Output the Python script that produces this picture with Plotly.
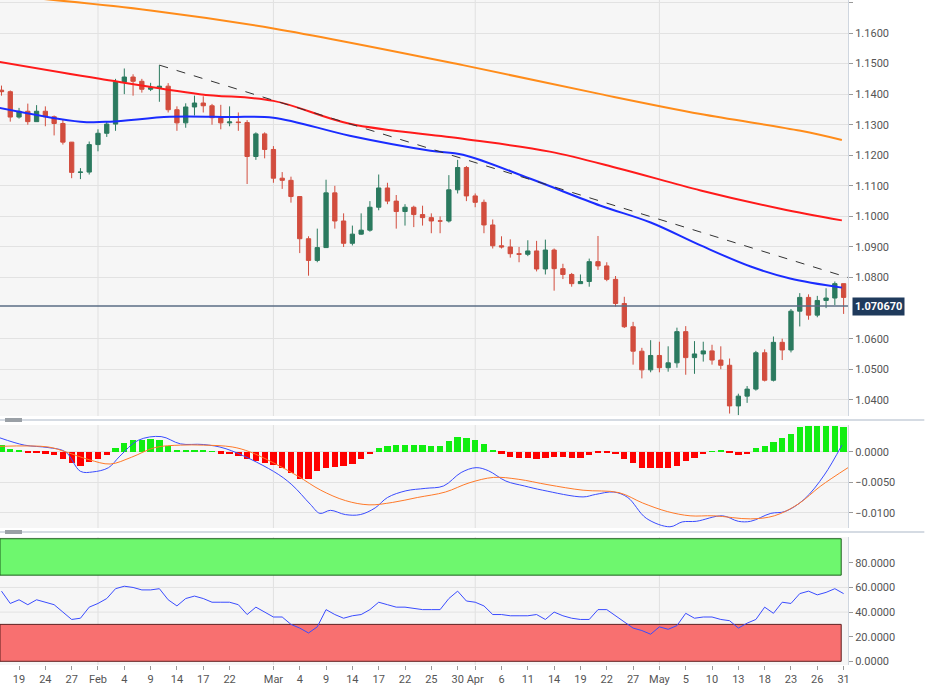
import plotly.graph_objects as go
import pandas as pd

dates = pd.bdate_range("2022-01-17", "2022-05-31")
idx = list(range(len(dates)))

close = [1.1408,1.1325,1.1344,1.1310,1.1344,1.1326,1.1304,1.1243,1.1144,1.1145,1.1235,
 1.1272,1.1302,1.1440,1.1456,1.1442,1.1416,1.1421,1.1426,1.1349,1.1306,1.1358,1.1371,1.1362,1.1323,1.1306,1.1309,1.1307,1.1196,1.1270,1.1219,
 1.1125,1.1118,1.1065,1.0927,1.0856,1.0898,1.1077,1.0985,1.0912,1.0942,1.0955,1.1030,1.1093,1.1050,1.1016,1.1030,1.1006,1.0996,1.0985,1.0985,1.1087,1.1160,1.1067,
 1.1046,1.0972,1.0904,1.0900,1.0878,1.0876,1.0887,1.0828,1.0890,1.0829,1.0810,1.0780,1.0787,1.0852,1.0838,1.0794,1.0715,1.0639,1.0559,1.0498,1.0545,
 1.0505,1.0521,1.0623,1.0538,1.0550,1.0560,1.0530,1.0513,1.0380,1.0412,1.0435,1.0554,1.0464,1.0588,1.0563,1.0690,1.0735,1.0677,1.0725,1.0733,1.0780,1.0735]
open_ = [1.1413] + close[:-1]
high = [1.1428,1.1412,1.1355,1.1369,1.1364,1.1360,1.1330,1.1318,1.1230,1.1158,1.1245,
 1.1285,1.1310,1.1450,1.1484,1.1465,1.1450,1.1437,1.1495,1.1436,1.1360,1.1370,1.1395,1.1393,1.1368,1.1365,1.1360,1.1340,1.1315,1.1275,1.1275,
 1.1230,1.1145,1.1130,1.1065,1.0935,1.0960,1.1120,1.1100,1.1010,1.0970,1.1010,1.1050,1.1137,1.1110,1.1070,1.1040,1.1035,1.1035,1.1010,1.1000,1.1135,1.1185,1.1165,
 1.1075,1.1055,1.0990,1.0935,1.0925,1.0900,1.0922,1.0920,1.0924,1.0895,1.0845,1.0815,1.0810,1.0862,1.0936,1.0850,1.0805,1.0737,1.0655,1.0570,1.0595,
 1.0590,1.0575,1.0636,1.0641,1.0592,1.0590,1.0580,1.0575,1.0535,1.0420,1.0445,1.0560,1.0565,1.0607,1.0600,1.0697,1.0749,1.0745,1.0740,1.0765,1.0787,1.0780]
low = [1.1395,1.1310,1.1320,1.1300,1.1310,1.1295,1.1265,1.1235,1.1125,1.1122,1.1137,
 1.1213,1.1260,1.1280,1.1400,1.1395,1.1405,1.1410,1.1375,1.1340,1.1280,1.1290,1.1330,1.1340,1.1300,1.1285,1.1295,1.1280,1.1106,1.1185,1.1190,
 1.1110,1.1090,1.1045,1.0880,1.0806,1.0850,1.0898,1.0960,1.0900,1.0905,1.0940,1.0950,1.1020,1.1040,1.0960,1.0970,1.0965,1.0970,1.0945,1.0945,1.0980,1.1075,1.1050,
 1.1030,1.0945,1.0895,1.0895,1.0865,1.0850,1.0870,1.0820,1.0810,1.0757,1.0795,1.0770,1.0780,1.0770,1.0825,1.0788,1.0705,1.0635,1.0515,1.0470,1.0490,
 1.0490,1.0492,1.0505,1.0482,1.0485,1.0525,1.0515,1.0500,1.0355,1.0350,1.0390,1.0430,1.0460,1.0460,1.0530,1.0555,1.0640,1.0662,1.0670,1.0700,1.0710,1.0681]

# moving averages (index, value)
ma55_i = [-0.2,9,12.4,19.2,26,31,39.7,48.9,52.6,60.3,68.3,74,79.7,85.4,89.9,95.8]
ma55_v = [1.1355,1.1310,1.1310,1.1326,1.1325,1.1323,1.1264,1.1215,1.1202,1.1123,1.1035,1.0980,1.0905,1.0836,1.0797,1.0767]
ma100_i = [-0.2,11.2,22.6,31,39.7,52.6,62.5,70.5,79.7,88.8,95.8]
ma100_v = [1.1505,1.1450,1.1400,1.1378,1.1303,1.1254,1.1212,1.1156,1.1085,1.1025,1.0987]
ma200_i = [-0.2,17,31,52.6,68.3,79.7,91.1,95.8]
ma200_v = [1.1725,1.1674,1.1615,1.1495,1.1400,1.1335,1.1280,1.1250]
trend_i = [18, 96.5]
trend_v = [1.1495, 1.0800]
last_price = 1.070670
price_ticks = [1.04,1.05,1.06,1.08,1.09,1.10,1.11,1.12,1.13,1.14,1.15,1.16,1.17]

macd_i = [-0.2,2.6,5.3,7.3,9,10.4,12.2,13.5,15.6,18.2,20.4,23,25.6,31,33.1,35.2,36.3,37.5,39.2,40.9,42.6,44,46.1,48.3,50.4,52.4,54.1,55.5,57.5,59.6,61.7,66.3,67.7,69.8,71.4,73.5,76.2,77.6,79.2,82.2,84,85.4,87.7,89.3,91.5,93.8,95.8]
macd_v = [0.0023,0.0011,0.0007,0.0000,-0.0032,-0.0033,-0.0026,-0.0007,0.0019,0.0025,0.0013,0.0012,0.0005,-0.0032,-0.0054,-0.0086,-0.0101,-0.0096,-0.0103,-0.0103,-0.0092,-0.0075,-0.0064,-0.0060,-0.0056,-0.0034,-0.0026,-0.0031,-0.0048,-0.0056,-0.0063,-0.0074,-0.0070,-0.0066,-0.0075,-0.0109,-0.0123,-0.0115,-0.0114,-0.0105,-0.0114,-0.0114,-0.0101,-0.0098,-0.0078,-0.0038,0.0011]
signal_i = [-0.2,5.3,7.3,10,12.4,14.8,17.5,20.4,23,26.3,28.3,31,33.8,36.4,39.2,41.9,44.6,47.4,50.6,53.3,56.1,58.9,62.3,66.3,70.4,73.1,75.9,78.5,81.2,85.4,88.1,90.8,93.4,96.5]
signal_v = [0.0009,0.0008,0.0000,-0.0013,-0.0020,-0.0009,0.0007,0.0011,0.0011,0.0008,0.0000,-0.0018,-0.0040,-0.0063,-0.0080,-0.0087,-0.0083,-0.0075,-0.0066,-0.0051,-0.0042,-0.0045,-0.0054,-0.0063,-0.0067,-0.0084,-0.0098,-0.0105,-0.0105,-0.0110,-0.0105,-0.0086,-0.0056,-0.0026]
hist = [0.0012,0.0005,0.0003,-0.0002,-0.0002,-0.0003,-0.0006,-0.0012,-0.0018,-0.0023,-0.0017,-0.0012,-0.0006,
 0.0006,0.0015,0.0019,0.0020,0.0021,0.0019,0.0010,0.0002,0.0002,0.0002,0.0002,0.0001,
 -0.0003,-0.0004,-0.0007,-0.0012,-0.0015,-0.0018,-0.0022,-0.0027,-0.0035,-0.0044,-0.0045,-0.0032,-0.0027,-0.0025,-0.0024,-0.0020,-0.0012,-0.0004,
 0.0006,0.0009,0.0011,0.0012,0.0012,0.0011,0.0010,0.0010,0.0017,0.0024,0.0022,0.0020,0.0013,0.0003,
 -0.0003,-0.0008,-0.0010,-0.0010,-0.0011,-0.0010,-0.0009,-0.0009,-0.0010,-0.0010,-0.0006,-0.0002,-0.0001,-0.0004,-0.0012,-0.0018,-0.0026,-0.0027,-0.0026,-0.0026,-0.0023,-0.0015,-0.0010,-0.0004,
 0.0001,0.0002,-0.0001,-0.0005,-0.0004,0.0006,0.0009,0.0016,0.0022,0.0030,0.0040,0.0042,0.0043,0.0043,0.0043,0.0040]
rsi = [57,47,50,46,50,48,46,40,34,35,44,47,51,59,61,60,58,58,59,50,45,51,53,51,48,48,48,46,38,44,40,36,36,30,27,23,28,42,38,35,37,38,42,48,46,44,44,43,42,42,42,51,57,49,48,45,38,38,37,37,37,38,34,40,37,35,34,34,42,42,37,32,27,25,22,28,26,29,39,35,36,36,34,33,27,31,34,44,39,48,47,55,57,54,56,59,55]
rsi_ticks = [0, 20, 40, 60, 80]
rsi_grid = [40, 60]

tick_i = [2,5,8,11,14,17,20,23,26,31,34,37,40,43,46,49,52,54,57,60,63,66,69,72,75,78,81,84,87,90,93,96]
tick_t = ["19","24","27","Feb","4","9","14","17","22","Mar","4","9","14","17","22","25","30","Apr","6","11","14","19","22","27","May","5","10","13","18","23","26","31"]
month_i = [11,31,54,75]

GREEN, RED = "#2b7a5f", "#d24d3e"
fig = go.Figure()
fig.add_trace(go.Candlestick(x=idx, open=open_, high=high, low=low, close=close,
    increasing=dict(line=dict(color=GREEN, width=1), fillcolor=GREEN),
    decreasing=dict(line=dict(color=RED, width=1), fillcolor=RED),
    whiskerwidth=0, xaxis="x3", yaxis="y3", showlegend=False))
for xi, yv, c in [(ma200_i, ma200_v, "#ff8c1a"), (ma100_i, ma100_v, "#ff1a1a"), (ma55_i, ma55_v, "#1a2cff")]:
    fig.add_trace(go.Scatter(x=xi, y=yv, mode="lines", line=dict(color=c, width=2, shape="spline"),
                             xaxis="x3", yaxis="y3", showlegend=False, hoverinfo="skip"))
fig.add_trace(go.Scatter(x=trend_i, y=trend_v, mode="lines", line=dict(color="#333", width=1, dash="dash"),
                         xaxis="x3", yaxis="y3", showlegend=False))
fig.add_trace(go.Bar(x=idx, y=hist, marker=dict(color=["#11ee11" if h >= 0 else "#ff0000" for h in hist], line=dict(width=0)),
                     width=0.72, xaxis="x2", yaxis="y2", showlegend=False))
fig.add_trace(go.Scatter(x=macd_i, y=macd_v, mode="lines", line=dict(color="#3a4cff", width=1, shape="spline"),
                         xaxis="x2", yaxis="y2", showlegend=False))
fig.add_trace(go.Scatter(x=signal_i, y=signal_v, mode="lines", line=dict(color="#ff7a2a", width=1, shape="spline"),
                         xaxis="x2", yaxis="y2", showlegend=False))
fig.add_trace(go.Scatter(x=idx, y=rsi, mode="lines", line=dict(color="#3a4cff", width=1),
                         xaxis="x", yaxis="y", showlegend=False))

H = 699
def dom(top, bot):
    return [1 - bot / H, 1 - top / H]

xr = [-0.17, 96.5]
tickf = dict(size=11, color="#555", family="Roboto")
common_y = dict(side="right", zeroline=False, ticks="outside",
                ticklen=4, tickcolor="#999", tickfont=tickf, showline=True, linecolor="#cfd6df", automargin=False)
fig.update_layout(
    width=926, height=H, margin=dict(l=0, r=78, t=0, b=0, autoexpand=False),
    paper_bgcolor="white", plot_bgcolor="#f6f6f6", bargap=0,
    xaxis=dict(domain=[0, 1], range=xr, tickvals=tick_i, ticktext=tick_t, showgrid=False, zeroline=False,
               tickfont=tickf, anchor="y", ticks="outside", ticklen=4, tickcolor="#999", automargin=False),
    xaxis2=dict(domain=[0, 1], range=xr, matches="x", showticklabels=False, showgrid=False, zeroline=False, anchor="y2"),
    xaxis3=dict(domain=[0, 1], range=xr, matches="x", showticklabels=False, showgrid=False, zeroline=False,
                anchor="y3", rangeslider=dict(visible=False)),
    yaxis=dict(domain=dom(537, 665), range=[-3, 101], tickvals=rsi_ticks, tickformat=".4f", showgrid=False, **common_y),
    yaxis2=dict(domain=dom(425, 528), range=[-0.0125, 0.0044], tickvals=[0, -0.005, -0.01], tickformat=".4f",
                showgrid=True, gridcolor="#e2e2e2", **common_y),
    yaxis3=dict(domain=dom(0, 416), range=[1.0347, 1.1708], tickvals=price_ticks, tickformat=".4f",
                showgrid=True, gridcolor="#e2e2e2", **common_y),
)
shapes = []
for m in month_i:
    for yr in ["y", "y2", "y3"]:
        shapes.append(dict(type="line", xref="x", yref=f"{yr} domain", x0=m, x1=m, y0=0, y1=1,
                           line=dict(color="#e0e0e0", width=1), layer="below"))
for g in rsi_grid:
    shapes.append(dict(type="line", xref="x domain", yref="y", x0=0, x1=1, y0=g, y1=g,
                       line=dict(color="#e2e2e2", width=1), layer="below"))
shapes += [
    dict(type="rect", xref="x domain", yref="y", x0=0, x1=0.992, y0=70, y1=99.6, fillcolor="#6ef76e",
         line=dict(color="#1f5f1f", width=1), layer="below"),
    dict(type="rect", xref="x domain", yref="y", x0=0, x1=0.992, y0=0, y1=30, fillcolor="#f87070",
         line=dict(color="#5f1f1f", width=1), layer="below"),
    dict(type="line", xref="x3 domain", yref="y3", x0=0, x1=1, y0=last_price, y1=last_price,
         line=dict(color="#5a6d85", width=1.5)),
    dict(type="line", xref="paper", yref="paper", x0=0, x1=1.09, y0=1 - 420 / H, y1=1 - 420 / H, line=dict(color="#d5dbe3", width=2)),
    dict(type="line", xref="paper", yref="paper", x0=0, x1=1.09, y0=1 - 532 / H, y1=1 - 532 / H, line=dict(color="#d5dbe3", width=2)),
    dict(type="rect", xref="paper", yref="paper", x0=5 / 848, x1=22 / 848, y0=1 - 422 / H, y1=1 - 418 / H, fillcolor="#9aa0a6", line=dict(width=0)),
    dict(type="rect", xref="paper", yref="paper", x0=5 / 848, x1=22 / 848, y0=1 - 534 / H, y1=1 - 530 / H, fillcolor="#9aa0a6", line=dict(width=0)),
]
fig.update_layout(shapes=shapes)
fig.add_annotation(xref="paper", yref="y3", x=1.005, y=last_price, xanchor="left", showarrow=False,
                   text=f"<b>{last_price:.6f}</b>", font=dict(color="white", size=11, family="Roboto"),
                   bgcolor="#1f3a5c", borderpad=2)
fig.write_html("out.html", config={"displayModeBar": False}, post_script="document.body.style.margin='0';")
